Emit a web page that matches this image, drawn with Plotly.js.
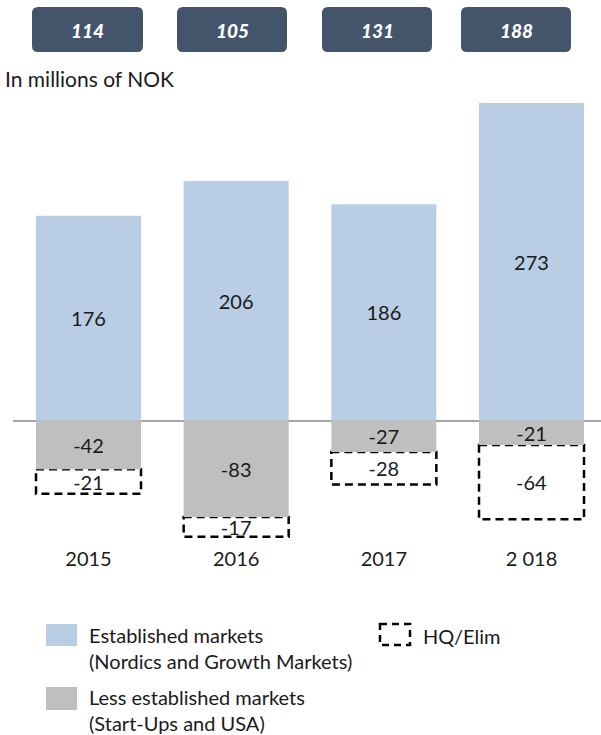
<!DOCTYPE html>
<html>
<head>
<meta charset="utf-8">
<script src="https://cdn.plot.ly/plotly-3.0.1.min.js"></script>
<style>
html,body{margin:0;padding:0;background:#fff;}
#chart{width:601px;height:735px;}
</style>
</head>
<body>
<div id="chart"></div>
<script>
// ---- data ----
var years = ["2015", "2016", "2017", "2 018"];
var established = [176, 206, 186, 273];
var lessEstablished = [-42, -83, -27, -21];
var hqElim = [-21, -17, -28, -64];
var totals = [114, 105, 131, 188];

var seriesNames = [
  "Established markets<br>(Nordics and Growth Markets)",
  "Less established markets<br>(Start-Ups and USA)",
  "HQ/Elim"
];
var unitLabel = "In millions of NOK";

// ---- layout helpers (pixel geometry) ----
var W = 601, H = 735;
var M = {l: 13, r: 0, t: 90, b: 190};
var PW = W - M.l - M.r, PH = H - M.t - M.b;
function px(x) { return (x - M.l) / PW; }
function py(y) { return (H - M.b - y) / PH; }

var FONT = "Lato, 'Open Sans', sans-serif";
var BLUE = "#b9cde5", GRAY = "#bfbfbf", DARK = "#44546a", TXT = "#1a1a1a";
var barW = 0.711;

var traces = [
  {type: "bar", name: seriesNames[0], x: years, y: established,
   marker: {color: BLUE, line: {width: 0}}, width: barW,
   text: established.map(String), textposition: "inside", insidetextanchor: "middle",
   constraintext: "none", textfont: {family: FONT, size: 20, color: TXT},
   hoverinfo: "skip", showlegend: false},
  {type: "bar", name: seriesNames[1], x: years, y: lessEstablished,
   marker: {color: GRAY, line: {width: 0}}, width: barW,
   text: lessEstablished.map(String), textposition: "inside", insidetextanchor: "middle",
   constraintext: "none", textfont: {family: FONT, size: 20, color: TXT},
   hoverinfo: "skip", showlegend: false},
  {type: "bar", name: seriesNames[2], x: years, y: hqElim,
   marker: {color: "rgba(0,0,0,0)", line: {width: 0}}, width: barW,
   text: hqElim.map(String), textposition: "inside", insidetextanchor: "middle",
   constraintext: "none", textfont: {family: FONT, size: 20, color: TXT},
   hoverinfo: "skip", showlegend: false}
];

var shapes = [];
// dashed outline for HQ/Elim, in data coordinates
for (var i = 0; i < years.length; i++) {
  shapes.push({type: "rect", xref: "x", yref: "y",
    x0: i - barW / 2, x1: i + barW / 2,
    y0: lessEstablished[i], y1: lessEstablished[i] + hqElim[i],
    line: {color: "#000", width: 2.5, dash: "8px,5px"}, fillcolor: "rgba(0,0,0,0)", layer: "below"});
}

// total boxes (rounded) above the chart
var boxX = [[32, 143], [177, 287], [322, 432], [461, 571]];
var boxY = [7, 52];
var annotations = [];
function roundRectPath(x0, x1, y0, y1, r) {
  var X = function (v) { return px(v); }, Y = function (v) { return py(v); };
  return "M" + X(x0 + r) + "," + Y(y0) +
    " L" + X(x1 - r) + "," + Y(y0) +
    " Q" + X(x1) + "," + Y(y0) + " " + X(x1) + "," + Y(y0 + r) +
    " L" + X(x1) + "," + Y(y1 - r) +
    " Q" + X(x1) + "," + Y(y1) + " " + X(x1 - r) + "," + Y(y1) +
    " L" + X(x0 + r) + "," + Y(y1) +
    " Q" + X(x0) + "," + Y(y1) + " " + X(x0) + "," + Y(y1 - r) +
    " L" + X(x0) + "," + Y(y0 + r) +
    " Q" + X(x0) + "," + Y(y0) + " " + X(x0 + r) + "," + Y(y0) + " Z";
}
for (var j = 0; j < totals.length; j++) {
  shapes.push({type: "path", xref: "paper", yref: "paper",
    path: roundRectPath(boxX[j][0], boxX[j][1], boxY[0], boxY[1], 6),
    fillcolor: DARK, line: {width: 0}});
  annotations.push({xref: "paper", yref: "paper",
    x: px((boxX[j][0] + boxX[j][1]) / 2), y: py((boxY[0] + boxY[1]) / 2 + 1),
    text: String(totals[j]), showarrow: false, xanchor: "center", yanchor: "middle",
    font: {family: FONT, size: 19, color: "#ffffff", weight: 900, style: "italic"}});
}

annotations.push({xref: "paper", yref: "paper", x: px(3), y: py(78),
  text: unitLabel, showarrow: false, xanchor: "left", yanchor: "middle",
  font: {family: FONT, size: 21, color: TXT}});

// custom legend
shapes.push({type: "rect", xref: "paper", yref: "paper", x0: px(46), x1: px(77), y0: py(624), y1: py(646),
  fillcolor: BLUE, line: {width: 0}});
shapes.push({type: "rect", xref: "paper", yref: "paper", x0: px(46), x1: px(77), y0: py(687), y1: py(710),
  fillcolor: GRAY, line: {width: 0}});
shapes.push({type: "rect", xref: "paper", yref: "paper", x0: px(380), x1: px(410), y0: py(624), y1: py(645),
  fillcolor: "rgba(0,0,0,0)", line: {color: "#000", width: 2.5, dash: "7px,5px"}});
annotations.push({xref: "paper", yref: "paper", x: px(87), y: py(648), text: seriesNames[0],
  showarrow: false, xanchor: "left", yanchor: "middle", align: "left",
  font: {family: FONT, size: 20, color: TXT}});
annotations.push({xref: "paper", yref: "paper", x: px(87), y: py(710), text: seriesNames[1],
  showarrow: false, xanchor: "left", yanchor: "middle", align: "left",
  font: {family: FONT, size: 20, color: TXT}});
annotations.push({xref: "paper", yref: "paper", x: px(421), y: py(636), text: seriesNames[2],
  showarrow: false, xanchor: "left", yanchor: "middle", align: "left",
  font: {family: FONT, size: 20, color: TXT}});

var k = 1.163, zeroPx = 420.5;
var layout = {
  width: W, height: H,
  margin: M,
  paper_bgcolor: "#fff", plot_bgcolor: "#fff",
  barmode: "relative",
  showlegend: false,
  xaxis: {type: "category", range: [(M.l - 88.5) / 147.67, (W - 88.5) / 147.67],
    showgrid: false, zeroline: false, showline: false, ticks: "",
    tickfont: {family: FONT, size: 20, color: TXT}, fixedrange: true},
  yaxis: {range: [-(H - M.b - zeroPx) / k, (zeroPx - M.t) / k],
    showgrid: false, showticklabels: false, showline: false, ticks: "",
    zeroline: true, zerolinecolor: "#a6a6a6", zerolinewidth: 2, fixedrange: true},
  shapes: shapes,
  annotations: annotations,
  font: {family: FONT, color: TXT}
};

Plotly.newPlot("chart", traces, layout, {displayModeBar: false, staticPlot: true});
</script>
</body>
</html>
